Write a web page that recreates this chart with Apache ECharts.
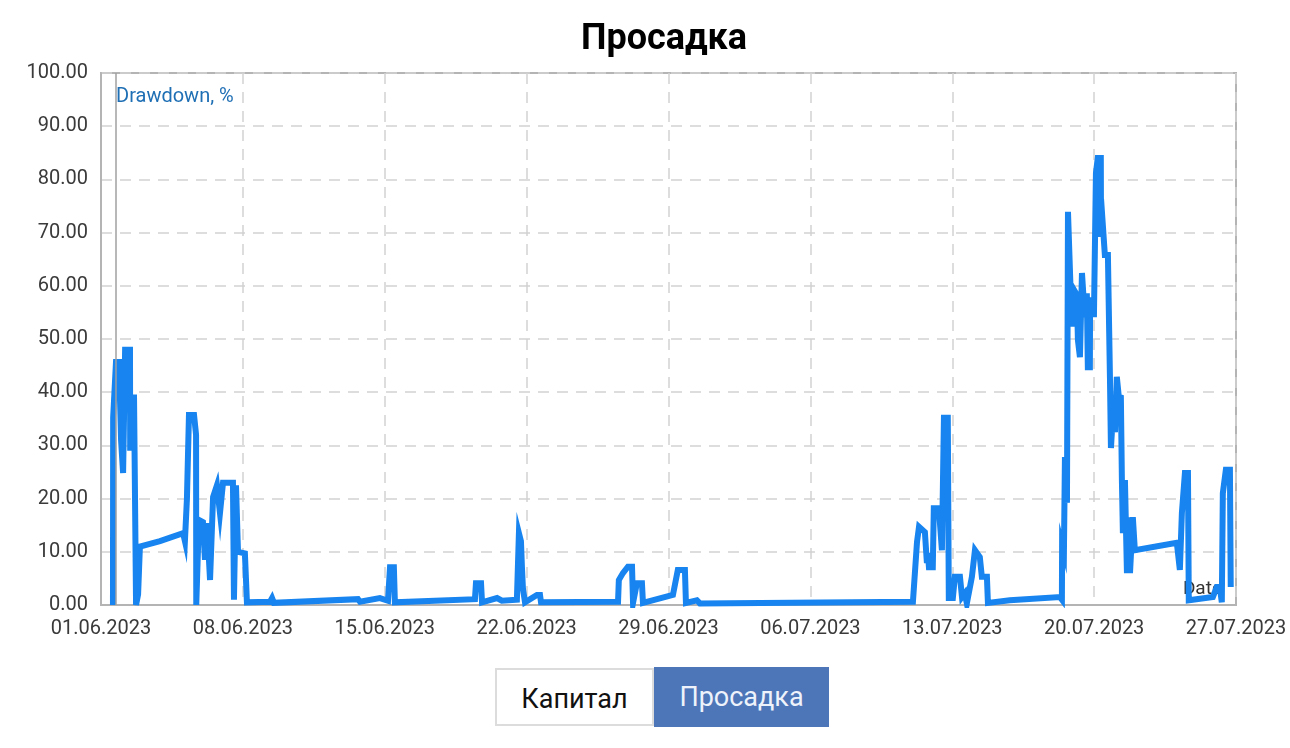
<!DOCTYPE html>
<html>
<head>
<meta charset="utf-8">
<script src="https://cdn.jsdelivr.net/npm/echarts@6/dist/echarts.min.js"></script>
<style>
  body { margin: 0; background: #fff; font-family: Roboto, sans-serif; }
  #chart { width: 1290px; height: 748px; }
  .tabs { position: absolute; left: 495px; top: 668px; display: flex; }
  .tab { height: 58px; line-height: 58px; font-size: 27px; box-sizing: border-box; text-align: center; }
  .tab.off { border: 2px solid #dcdcdc; color: #111; background: #fff; width: 159px; }
  .tab.on { background: #4d76b9; color: #eef3fb; width: 175px; height: 60px; line-height: 60px; margin-top: -1px; }
</style>
</head>
<body>
<div id="chart"></div>
<div class="tabs">
  <div class="tab off">Капитал</div>
  <div class="tab on">Просадка</div>
</div>
<script>
// x values are days since 01.06.2023
const startDate = Date.UTC(2023, 5, 1);
const dayTicks = [0, 7, 14, 21, 28, 35, 42, 49, 56];
const cursorDay = 0.74;

const dayOffsets = [
  0.59, 0.60, 0.69, 0.74, 0.89, 0.99, 1.09, 1.18, 1.19, 1.43, 1.44, 1.48, 1.63, 1.73, 1.83, 1.87, 1.92,
  2.91, 4.05, 4.14, 4.24, 4.34, 4.59, 4.69, 4.70, 4.83, 5.03, 5.13, 5.23, 5.38, 5.53, 5.72, 5.87, 6.02,
  6.51, 6.56, 6.66, 6.76, 7.10, 7.20, 8.34, 8.44, 8.53, 12.68, 12.78, 13.76, 14.16, 14.26, 14.45, 14.50,
  18.45, 18.50, 18.75, 18.80, 19.54, 19.78, 20.52, 20.62, 20.72, 20.77, 20.82, 20.92, 21.51, 21.66, 21.71,
  25.51, 25.55, 25.75, 26.00, 26.20, 26.25, 26.44, 26.69, 26.74, 28.22, 28.46, 28.81, 28.86, 29.40, 29.55,
  40.06, 40.26, 40.36, 40.65, 40.75, 40.80, 40.85, 41.04, 41.09, 41.34, 41.49, 41.54, 41.59, 41.78, 41.83,
  42.03, 42.13, 42.38, 42.48, 42.62, 42.72, 42.97, 43.12, 43.36, 43.46, 43.71, 43.76, 44.84,
  47.31, 47.41, 47.42, 47.51, 47.56, 47.66, 47.71, 47.80, 47.90, 47.95, 48.15, 48.20, 48.30, 48.40, 48.49,
  48.54, 48.64, 48.69, 48.79, 48.80, 48.94, 48.99, 49.09, 49.18, 49.33, 49.34, 49.43, 49.53, 49.68, 49.78,
  49.83, 49.93, 50.03, 50.12, 50.22, 50.32, 50.37, 50.42, 50.52, 50.62, 50.67, 50.77, 50.91, 51.01,
  53.08, 53.23, 53.33, 53.48, 53.63, 53.67, 54.86, 55.05, 55.20, 55.30, 55.35, 55.50, 55.70, 55.74
];
const drawdown = [
  0, 35.3, 35, 45.7, 45.7, 31, 24.8, 24.8, 48, 48, 29, 39, 39, 0, 2, 6, 11,
  12, 13.5, 12, 20, 35.7, 35.7, 32, 0, 16, 15.6, 8.5, 15.4, 4.7, 20.3, 22.5, 17.3, 23,
  23, 1, 22.5, 10, 9.7, 0.5, 0.6, 1.3, 0.4, 1.1, 0.6, 1.3, 0.8, 7.1, 7.1, 0.5,
  1.1, 4.1, 4.1, 0.5, 1.3, 0.8, 1, 13.5, 12, 7, 3, 0.5, 1.9, 1.9, 0.5,
  0.6, 4.7, 6, 7.2, 7.2, 0.4, 4.1, 4.1, 0.4, 1.9, 6.6, 6.6, 0.4, 0.9, 0.3,
  0.6, 11.8, 14.7, 13.7, 7.9, 9.8, 7.1, 7.1, 18.2, 18.2, 10.3, 10.3, 35.2, 35.2, 1.3,
  1.3, 5.3, 5.3, 1.5, 2.2, 0.3, 5.3, 10.3, 9, 5.3, 5.3, 0.4, 0.9,
  1.5, 1, 11.3, 10, 27.8, 19.2, 73.9, 73.9, 52.3, 59.6, 58.3, 49.8, 46.6, 62.4, 62.4,
  54.1, 58.6, 44.7, 44.7, 57.3, 57.3, 54.1, 81.2, 84, 84, 69.2, 71.4, 65.8, 65.8, 42.9,
  29.5, 36.1, 32.5, 42.9, 39.1, 39, 23.5, 13.5, 23.5, 6, 16.5, 6, 16.5, 10.3,
  11.7, 6.6, 17.3, 24.8, 24.8, 0.9, 1.5, 3.4, 3.4, 0.5, 21, 25.4, 25.4, 3.4
];

function dayLabel(v) {
  const d = new Date(startDate + v * 86400000);
  const p = n => String(n).padStart(2, '0');
  return `${p(d.getUTCDate())}.${p(d.getUTCMonth() + 1)}.${d.getUTCFullYear()}`;
}

const chart = echarts.init(document.getElementById('chart'));
const labelStyle = { color: '#3a3a3a', fontSize: 20, fontFamily: 'Roboto' };
const gridLine = { show: true, lineStyle: { color: '#d2d2d2', width: 1.5, type: [11, 8] } };

chart.setOption({
  animation: false,
  title: {
    text: 'Просадка', left: 576, top: 17,
    textStyle: { fontSize: 36, fontWeight: 'bold', color: '#000', fontFamily: 'Roboto' }
  },
  grid: {
    left: 101, right: 54, top: 73, bottom: 143,
    show: true, borderColor: '#b4b4b4', borderWidth: 2
  },
  xAxis: {
    type: 'value', min: dayTicks[0], max: dayTicks[dayTicks.length - 1], interval: 7,
    name: 'Date', nameLocation: 'end', nameGap: -14,
    nameTextStyle: { color: '#333', fontSize: 19, fontFamily: 'Roboto', align: 'right', verticalAlign: 'bottom', padding: [0, 0, 6, 0] },
    axisLine: { show: true, lineStyle: { color: '#b4b4b4', width: 2 } },
    axisTick: { show: false },
    axisLabel: { ...labelStyle, margin: 14, formatter: v => dayLabel(v) },
    splitLine: gridLine
  },
  yAxis: {
    type: 'value', min: 0, max: 100, interval: 10,
    name: 'Drawdown, %', nameLocation: 'end', nameGap: -24,
    nameTextStyle: { color: '#1f6fb5', fontSize: 20, fontFamily: 'Roboto', align: 'left', verticalAlign: 'middle', padding: [0, 0, 0, 15] },
    axisLine: { show: true, lineStyle: { color: '#b4b4b4', width: 2 } },
    axisTick: { show: false },
    axisLabel: { ...labelStyle, margin: 13, formatter: v => v.toFixed(2) },
    splitLine: gridLine
  },
  series: [{
    type: 'line',
    data: dayOffsets.map((d, i) => [d, drawdown[i]]),
    symbol: 'none',
    lineStyle: { color: '#1784ef', width: 6, join: 'miter' },
    markLine: {
      silent: true, symbol: 'none', label: { show: false },
      lineStyle: { color: '#a0a0a0', width: 1.5, type: 'solid' },
      data: [{ xAxis: cursorDay }]
    }
  }]
});
</script>
</body>
</html>
